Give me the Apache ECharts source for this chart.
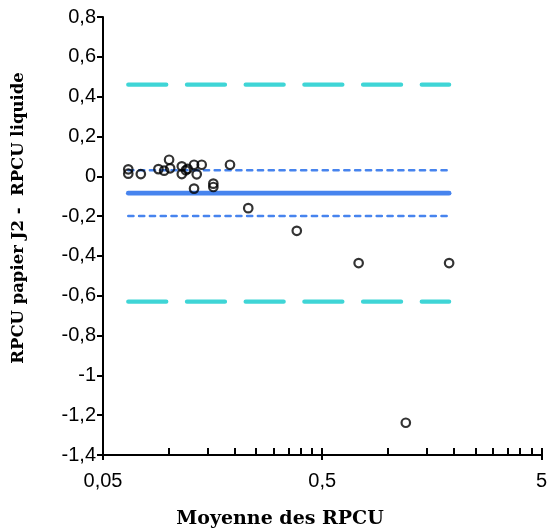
<!DOCTYPE html>
<html>
<head>
<meta charset="utf-8">
<script src="https://cdn.jsdelivr.net/npm/echarts@6/dist/echarts.min.js"></script>
<style>
  html, body { margin: 0; padding: 0; background: #ffffff; }
  #chart { width: 550px; height: 529px; }
</style>
</head>
<body>
<div id="chart"></div>
<script>
// Bland-Altman: mean of the two RPCU measures vs their difference
const meanRPCU = [0.0652, 0.0652, 0.0744, 0.0895, 0.0950, 0.1001, 0.1012, 0.1144, 0.1144,
                  0.1193, 0.1216, 0.1301, 0.1338, 0.1410, 0.1301, 0.1593, 0.1593, 0.1898,
                  0.2299, 0.3828, 0.733, 1.896, 1.203];
const diffRPCU = [0.035, 0.013, 0.011, 0.036, 0.028, 0.083, 0.040, 0.050, 0.011,
                  0.030, 0.037, 0.058, 0.010, 0.058, -0.062, -0.037, -0.054, 0.058,
                  -0.160, -0.274, -0.436, -0.436, -1.238];

// bias, its confidence interval and the limits of agreement
const biasValue = -0.085;
const biasCI = [0.030, -0.199];
const agreementLimits = [0.460, -0.630];

// axis ticks
const xMajorTicks = [0.05, 0.5, 5];
const xMinorTicks = [0.1, 0.15, 0.2, 0.25, 0.3, 0.35, 0.4, 0.45,
                     1, 1.5, 2, 2.5, 3, 3.5, 4, 4.5];
const yMin = -1.4, yMax = 0.8, yStep = 0.2;

const xTitle = 'Moyenne des RPCU';
const yTitle = 'RPCU papier J2 -  RPCU liquide';

const BLUE = '#4784ee';
const TEAL = '#3fd5d6';
const LABEL_FONT = 'Arial, "Liberation Sans", sans-serif';
const TITLE_FONT = '"DejaVu Serif", "Liberation Serif", serif';

const xLo = Math.min(...meanRPCU);
const xHi = Math.max(...meanRPCU);
const hLine = (y) => [[xLo, y], [xHi, y]];

const fmtComma = (v) => String(Number(Number(v).toPrecision(6))).replace('.', ',');

const chart = echarts.init(document.getElementById('chart'), null, { renderer: 'canvas' });

const lineSeries = (name, y, style) => ({
  name, type: 'line', data: hLine(y), symbol: 'none', silent: true, z: 2,
  lineStyle: style
});

chart.setOption({
  animation: false,
  backgroundColor: '#ffffff',
  grid: { left: 103, right: 7, top: 17, bottom: 74 },
  xAxis: [
    {
      type: 'log', logBase: 10, min: 0.05, max: 5, position: 'bottom',
      axisLine: { show: true, onZero: false, lineStyle: { color: '#000', width: 2 } },
      axisTick: { show: true, inside: false, length: 5, customValues: xMajorTicks,
                  lineStyle: { color: '#000', width: 2 } },
      axisLabel: { customValues: xMajorTicks, formatter: fmtComma, margin: 16,
                   color: '#000', fontSize: 20, fontFamily: LABEL_FONT },
      splitLine: { show: false }, minorTick: { show: false }
    },
    {
      type: 'log', logBase: 10, min: 0.05, max: 5, position: 'bottom',
      axisLine: { show: false, onZero: false },
      axisTick: { show: true, inside: true, length: 7,
                  customValues: xMajorTicks.concat(xMinorTicks),
                  lineStyle: { color: '#000', width: 2 } },
      axisLabel: { show: false },
      splitLine: { show: false }
    }
  ],
  yAxis: {
    type: 'value', min: yMin, max: yMax, interval: yStep,
    axisLine: { show: true, onZero: false, lineStyle: { color: '#000', width: 2 } },
    axisTick: { show: true, inside: false, length: 6, lineStyle: { color: '#000', width: 2 } },
    axisLabel: { formatter: (v) => fmtComma(Number(v.toFixed(1))), margin: 7,
                 color: '#000', fontSize: 20, fontFamily: LABEL_FONT },
    splitLine: { show: false }
  },
  series: [
    lineSeries('LoA haute', agreementLimits[0], { color: TEAL, width: 4.3, type: [38, 20.7], cap: 'round' }),
    lineSeries('LoA basse', agreementLimits[1], { color: TEAL, width: 4.3, type: [38, 20.7], cap: 'round' }),
    lineSeries('IC haut', biasCI[0], { color: BLUE, width: 2.5, type: [5.2, 5.6], cap: 'round' }),
    lineSeries('IC bas', biasCI[1], { color: BLUE, width: 2.5, type: [5.2, 5.6], cap: 'round' }),
    lineSeries('Biais', biasValue, { color: BLUE, width: 4.7, type: 'solid', cap: 'round' }),
    {
      name: 'Différence', type: 'scatter', z: 5,
      data: meanRPCU.map((m, i) => [m, diffRPCU[i]]),
      symbol: 'circle', symbolSize: 8.5,
      itemStyle: { color: 'rgba(255,255,255,0)', borderColor: '#000', borderWidth: 2.2 }
    }
  ],
  graphic: [
    {
      type: 'text', x: 280, y: 519,
      style: { text: xTitle, font: 'bold 19px ' + TITLE_FONT, fill: '#000',
               align: 'center', verticalAlign: 'middle' }
    },
    {
      type: 'text', x: 19, y: 218, rotation: Math.PI / 2,
      style: { text: yTitle, font: 'bold 16.5px ' + TITLE_FONT, fill: '#000',
               align: 'center', verticalAlign: 'middle' }
    }
  ]
});
</script>
</body>
</html>
